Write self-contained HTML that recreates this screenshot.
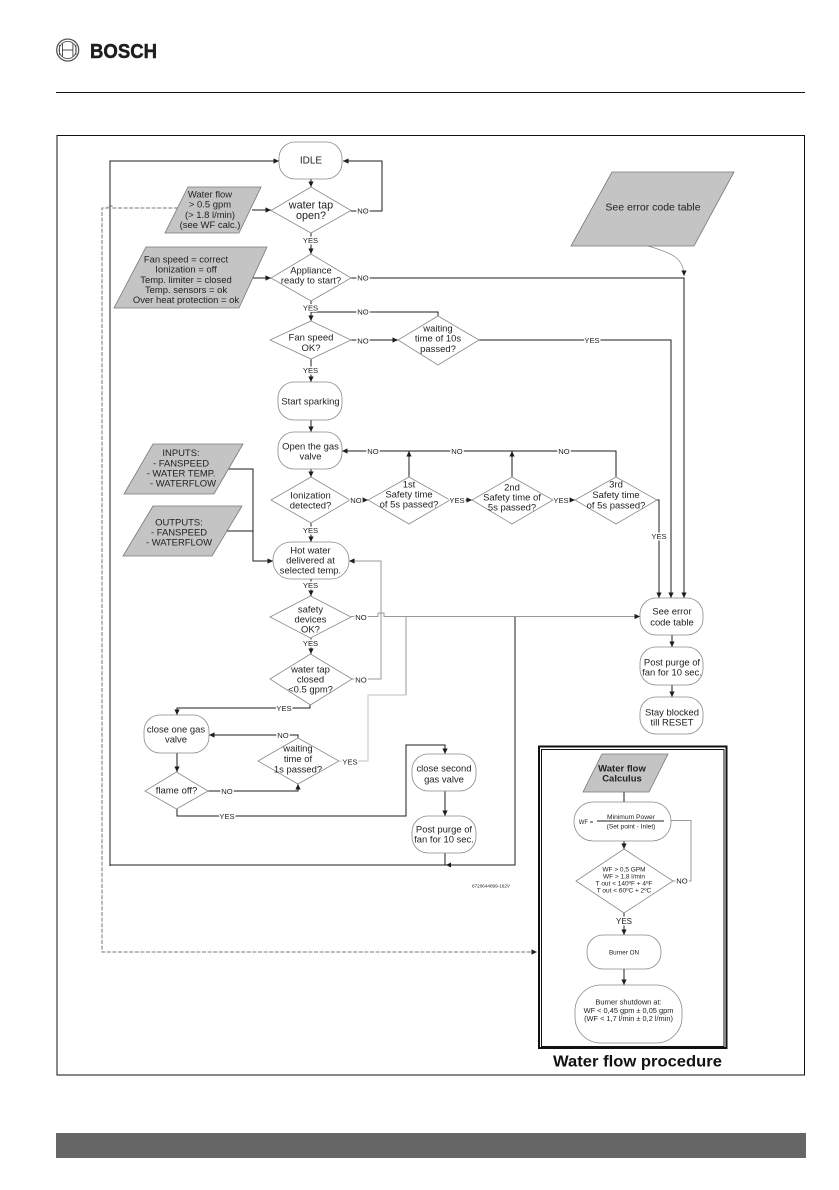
<!DOCTYPE html>
<html>
<head>
<meta charset="utf-8">
<style>
html,body{margin:0;padding:0;background:#fff;width:839px;height:1190px;overflow:hidden}
svg{display:block}
text{font-family:"Liberation Sans",sans-serif;text-anchor:middle;fill:#222;font-size:9.45px}
.d{font-size:9.5px}
.l{font-size:7.6px;paint-order:stroke;stroke:#fff;stroke-width:3px;stroke-linejoin:round}
.n{fill:#fff;stroke:#8a8a8a;stroke-width:.8}
.p{fill:#c4c4c4;stroke:#777;stroke-width:.8}
.k{fill:none;stroke:#1c1c1c;stroke-width:1}
.g{fill:none;stroke:#999;stroke-width:1}
.g2{fill:none;stroke:#ccc;stroke-width:1.2}
.s{font-size:6.5px}
.b{font-size:7.4px}
</style>
</head>
<body>
<svg width="839" height="1190" viewBox="0 0 839 1190" xmlns="http://www.w3.org/2000/svg">
<defs>
<marker id="a" markerUnits="userSpaceOnUse" markerWidth="6" markerHeight="6" refX="5.5" refY="3" orient="auto"><path d="M0 .4L5.5 3L0 5.6z" fill="#1c1c1c"/></marker>
</defs>

<!-- header -->
<g fill="none" stroke="#555">
<circle cx="67.7" cy="50" r="11" stroke-width="1.3"/>
<circle cx="67.7" cy="50" r="8.6" stroke-width=".9"/>
<path d="M62.5 43v14M72.9 43v14M62.5 50h10.4M59.5 45v10M75.9 45v10" stroke-width="1"/>
</g>
<text x="123.5" y="57.8" textLength="67" lengthAdjust="spacingAndGlyphs" style="font-size:20.5px;font-weight:700;fill:#1e1e1e;stroke:#1e1e1e;stroke-width:.5">BOSCH</text>
<rect x="56" y="92" width="749" height="1" fill="#111"/>

<!-- outer frame -->
<rect x="57" y="135.5" width="747.5" height="939.5" fill="none" stroke="#111" stroke-width="1"/>

<!-- connectors: black -->
<path class="k" d="M311 179V187" marker-end="url(#a)"/>
<path class="k" d="M351 211H382V161H343" marker-end="url(#a)"/>
<path class="k" d="M110 866V161H279" marker-end="url(#a)"/>
<path class="k" d="M252 210H271" marker-end="url(#a)"/>
<path class="k" d="M311 233V254" marker-end="url(#a)"/>
<path class="k" d="M253 278H271" marker-end="url(#a)"/>
<path class="k" d="M351 278H684V598" marker-end="url(#a)"/>
<path class="k" d="M311 301V321" marker-end="url(#a)"/>
<path class="k" d="M438 316V312H311V321"/>
<path class="k" d="M351 340H398" marker-end="url(#a)"/>
<path class="k" d="M479 340H671V598" marker-end="url(#a)"/>
<path class="k" d="M311 359V382" marker-end="url(#a)"/>
<path class="k" d="M311 420V432" marker-end="url(#a)"/>
<path class="k" d="M311 469V477" marker-end="url(#a)"/>
<path class="k" d="M311 523V542" marker-end="url(#a)"/>
<path class="k" d="M616 477V451H342" marker-end="url(#a)"/>
<path class="k" d="M512 477V451" marker-end="url(#a)"/>
<path class="k" d="M409 477V451" marker-end="url(#a)"/>
<path class="k" d="M350 500H368" marker-end="url(#a)"/>
<path class="k" d="M450 500H472" marker-end="url(#a)"/>
<path class="k" d="M553 500H575" marker-end="url(#a)"/>
<path class="k" d="M657 500H659V598" marker-end="url(#a)"/>
<path class="k" d="M228 469H253V561H273" marker-end="url(#a)"/>
<path class="k" d="M226 531H253"/>
<path class="k" d="M311 579V596" marker-end="url(#a)"/>
<path class="k" d="M311 638V654" marker-end="url(#a)"/>
<path class="k" d="M310 705V708H177V715" marker-end="url(#a)"/>
<path class="k" d="M177 753V772" marker-end="url(#a)"/>
<path class="k" d="M298 738V735H209" marker-end="url(#a)"/>
<path class="k" d="M208 791H298V784" marker-end="url(#a)"/>
<path class="k" d="M177 809V816H406V745H445V754" marker-end="url(#a)"/>
<path class="k" d="M445 791V816" marker-end="url(#a)"/>
<path class="k" d="M445 853V865"/>
<path class="k" d="M515 616.5V865H110"/>
<path d="M451 862.5L446 865L451 867.5z" fill="#1c1c1c"/>
<path class="k" d="M672 635V647" marker-end="url(#a)"/>
<path class="k" d="M672 685V697" marker-end="url(#a)"/>

<!-- connectors: grey -->
<path class="g" d="M352 679H381V561H349" marker-end="url(#a)"/>
<path class="g" d="M351 616.5H378V613H384V616.5H640" marker-end="url(#a)"/>
<path class="g" d="M406 616.5V695"/>
<path class="g2" d="M406 695H368V761H340"/>
<path fill="none" stroke="#888" stroke-width=".7" d="M648 246C672 253 684 258 684 276" marker-end="url(#a)"/>
<path fill="none" stroke="#777" stroke-width="1" stroke-dasharray="4 1.6" d="M178 208H112V206H108V208H102V952H537" marker-end="url(#a)"/>

<!-- IDLE -->
<rect class="n" x="279" y="142" width="63" height="37" rx="16"/>
<text x="311" y="163.500" style="font-size:10px">IDLE</text>

<!-- water tap -->
<polygon class="n" points="311,187 351,210.500 311,233 271,210.500"/>
<text x="311" y="208.500" style="font-size:10.8px">water tap</text>
<text x="311" y="219" style="font-size:10.8px">open?</text>

<polygon class="p" points="188,187 261,187 239,233 165,233"/>
<text x="210" y="197.500">Water flow</text>
<text x="210" y="207.500">&gt; 0.5 gpm</text>
<text x="210" y="218">(&gt; 1.8 l/min)</text>
<text x="210" y="228">(see WF calc.)</text>

<polygon class="p" points="146,247 267,247 239,308 114,308"/>
<text x="186" y="262.500">Fan speed = correct</text>
<text x="186" y="272.500">Ionization = off</text>
<text x="186" y="283">Temp. limiter = closed</text>
<text x="186" y="293">Temp. sensors = ok</text>
<text x="186" y="303">Over heat protection = ok</text>

<polygon class="n" points="311,254 351,278 311,301 271,278"/>
<text x="311" y="273.500">Appliance</text>
<text x="311" y="283.500">ready to start?</text>

<polygon class="n" points="311,321 351,340 311,359 270,340"/>
<text class="d" x="311" y="340.500">Fan speed</text>
<text class="d" x="311" y="351">OK?</text>

<polygon class="n" points="438,316 479,340 438,365 398,340"/>
<text x="438" y="331.500">waiting</text>
<text x="438" y="341.500">time of 10s</text>
<text x="438" y="352">passed?</text>

<polygon class="p" points="612,172 734,172 694,246 571,246"/>
<text x="653" y="210.500" style="font-size:10.500px">See error code table</text>

<rect class="n" x="278" y="382" width="64" height="38" rx="16"/>
<text x="310.500" y="404.500">Start sparking</text>

<rect class="n" x="278" y="432" width="64" height="37" rx="16"/>
<text x="310.500" y="449.500">Open the gas</text>
<text x="310.500" y="459.500">valve</text>

<polygon class="n" points="311,477 350,500 311,523 271,500"/>
<text x="310.500" y="498.500">Ionization</text>
<text x="310.500" y="508.500">detected?</text>

<polygon class="n" points="409,477 450,500 409,524 368,500"/>
<text x="409" y="487.500">1st</text>
<text x="409" y="497.500">Safety time</text>
<text x="409" y="507.500">of 5s passed?</text>

<polygon class="n" points="512,477 553,500 512,524 472,500"/>
<text x="512" y="490.500">2nd</text>
<text x="512" y="500.500">Safety time of</text>
<text x="512" y="510.500">5s passed?</text>

<polygon class="n" points="616,477 657,500 616,524 575,500"/>
<text x="616" y="487.500">3rd</text>
<text x="616" y="498">Safety time</text>
<text x="616" y="508.500">of 5s passed?</text>

<polygon class="p" points="153,444 243,444 214,494 124,494"/>
<text x="181" y="456">INPUTS:</text>
<text x="181" y="466.500">- FANSPEED</text>
<text x="181" y="476.500">- WATER TEMP.</text>
<text x="183" y="486.500">- WATERFLOW</text>

<polygon class="p" points="153,506 242,506 212,556 123,556"/>
<text x="179" y="525.500">OUTPUTS:</text>
<text x="179" y="535.500">- FANSPEED</text>
<text x="179" y="545.500">- WATERFLOW</text>

<rect class="n" x="273" y="542" width="76" height="37" rx="18"/>
<text x="310.500" y="553.500">Hot water</text>
<text x="310.500" y="563.500">delivered at</text>
<text x="310.500" y="573.500">selected temp.</text>

<polygon class="n" points="310.500,596 351,617 310.500,638 270,617"/>
<text x="310.500" y="612.500">safety</text>
<text x="310.500" y="622.500">devices</text>
<text x="310.500" y="632.500">OK?</text>

<polygon class="n" points="310.500,654 352,679 310.500,705 270,679"/>
<text x="310.500" y="672.500">water tap</text>
<text x="310.500" y="682.500">closed</text>
<text x="310.500" y="692.500">&lt;0.5 gpm?</text>

<rect class="n" x="144" y="715" width="65" height="38" rx="16"/>
<text x="176" y="732.500">close one gas</text>
<text x="176" y="742.500">valve</text>

<polygon class="n" points="298,738 339,761 298,784 258,761"/>
<text x="298" y="751.500">waiting</text>
<text x="298" y="762">time of</text>
<text x="298" y="772.500">1s passed?</text>

<polygon class="n" points="176.500,772 208,791 176.500,809 145,791"/>
<text class="d" x="176.500" y="793.500">flame off?</text>

<rect class="n" x="412" y="754" width="64" height="37" rx="16"/>
<text x="444" y="771.500">close second</text>
<text x="444" y="782.500">gas valve</text>

<rect class="n" x="412" y="816" width="64" height="37" rx="16"/>
<text x="444" y="832.500">Post purge of</text>
<text x="444" y="842.500">fan for 10 sec.</text>

<rect class="n" x="640" y="598" width="63" height="37" rx="16"/>
<text x="672" y="614.500">See error</text>
<text x="672" y="625.500">code table</text>

<rect class="n" x="640" y="647" width="63" height="38" rx="16"/>
<text x="672" y="665.500">Post purge of</text>
<text x="672" y="675.500">fan for 10 sec.</text>

<rect class="n" x="640" y="697" width="63" height="37" rx="16"/>
<text x="672" y="715.500">Stay blocked</text>
<text x="672" y="725.500">till RESET</text>

<text x="491" y="887.500" style="font-size:4.500px" textLength="38" lengthAdjust="spacingAndGlyphs">6720644899-162V</text>

<!-- connector labels -->
<g>
<text class="l" x="363" y="213.500">NO</text>
<text class="l" x="310.500" y="243">YES</text>
<text class="l" x="363" y="280.500">NO</text>
<text class="l" x="310.500" y="310.500">YES</text>
<text class="l" x="363" y="314.500">NO</text>
<text class="l" x="363" y="343.500">NO</text>
<text class="l" x="310.500" y="373">YES</text>
<text class="l" x="592" y="342.800">YES</text>
<text class="l" x="373" y="453.800">NO</text>
<text class="l" x="457" y="453.800">NO</text>
<text class="l" x="564" y="453.800">NO</text>
<text class="l" x="356" y="502.800">NO</text>
<text class="l" x="457" y="502.800">YES</text>
<text class="l" x="561" y="502.800">YES</text>
<text class="l" x="659" y="538.800">YES</text>
<text class="l" x="310.500" y="532.800">YES</text>
<text class="l" x="310.500" y="588">YES</text>
<text class="l" x="361" y="619.800">NO</text>
<text class="l" x="310.500" y="646">YES</text>
<text class="l" x="361" y="682.500">NO</text>
<text class="l" x="284" y="710.800">YES</text>
<text class="l" x="283" y="737.800">NO</text>
<text class="l" x="350" y="764.500">YES</text>
<text class="l" x="227" y="793.800">NO</text>
<text class="l" x="227" y="818.800">YES</text>
</g>

<!-- water flow box -->
<rect x="539" y="746.500" width="187.500" height="301.500" fill="none" stroke="#111" stroke-width="2"/>
<rect x="541.500" y="749.500" width="182.500" height="297" fill="none" stroke="#111" stroke-width="1"/>

<path class="k" d="M624 792V802"/>
<path class="k" d="M624 841V849" marker-end="url(#a)"/>
<path class="g" d="M671 820.500H691V881H673"/>
<path class="k" d="M624 913V935" marker-end="url(#a)"/>
<path class="k" d="M624 969V985" marker-end="url(#a)"/>

<polygon class="p" points="602,754 668,754 649,792 583,792"/>
<text x="622" y="771.500" style="font-weight:700;font-size:9.5px">Water flow</text>
<text x="622" y="781.500" style="font-weight:700;font-size:9.5px">Calculus</text>

<rect class="n" x="574" y="802" width="97" height="39" rx="19"/>
<text x="586" y="824" style="font-size:6px">WF =</text>
<text x="631" y="819" style="font-size:6.7px">Minimum Power</text>
<rect x="597" y="820.500" width="67" height="1" fill="#222"/>
<text x="631" y="828.500" style="font-size:6.600px">(Set point - Inlet)</text>

<polygon class="n" points="624,849 673,881 624,913 576,881"/>
<text class="s" x="624" y="871.500">WF &gt; 0,5 GPM</text>
<text class="s" x="624" y="878.500">WF &gt; 1,8 l/min</text>
<text class="s" x="624" y="885.500">T out &lt; 140ºF + 4ºF</text>
<text class="s" x="624" y="892.500">T out &lt; 60ºC + 2ºC</text>
<text class="l" x="682" y="883.700">NO</text>
<text class="l" x="624" y="924" style="font-size:8px">YES</text>

<rect class="n" x="587" y="935" width="74" height="34" rx="16"/>
<text x="624" y="954.500" style="font-size:6.300px">Burner ON</text>

<rect class="n" x="575" y="985" width="107" height="58" rx="26"/>
<text class="b" x="628.500" y="1004.500">Burner shutdown at:</text>
<text class="b" x="628.500" y="1012.800">WF &lt; 0,45 gpm ± 0,05 gpm</text>
<text class="b" x="628.500" y="1021">(WF &lt; 1,7 l/min ± 0,2 l/min)</text>

<text x="637.500" y="1066.500" style="font-size:15.500px;font-weight:700;fill:#111" textLength="169" lengthAdjust="spacingAndGlyphs">Water flow procedure</text>

<!-- footer -->
<rect x="56" y="1133" width="750" height="25" fill="#666"/>
</svg>
</body>
</html>
